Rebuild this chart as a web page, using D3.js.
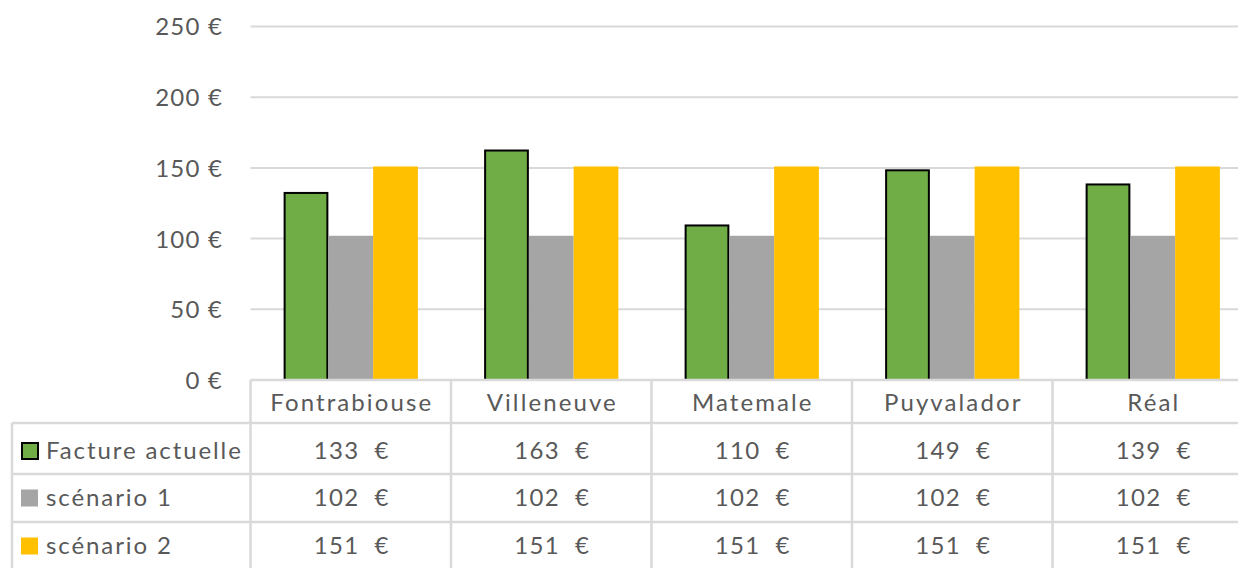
<!DOCTYPE html>
<html>
<head>
<meta charset="utf-8">
<script src="https://cdn.jsdelivr.net/npm/d3@7"></script>
<style>
  html, body { margin: 0; padding: 0; background: #fff; }
  svg text { font-family: Lato, "Noto Sans", sans-serif; fill: #595959; }
</style>
</head>
<body>
<svg id="chart" width="1238" height="568"></svg>
<script>
// Communes compared
const communes = ["Fontrabiouse", "Villeneuve", "Matemale", "Puyvalador", "Réal"];
// Annual bill per commune (€)
const factureActuelle = [133, 163, 110, 149, 139];
const scenario1 = [102, 102, 102, 102, 102];
const scenario2 = [151, 151, 151, 151, 151];
const seriesNames = ["Facture actuelle", "scénario 1", "scénario 2"];
const seriesColors = ["#70AD47", "#A5A5A5", "#FFC000"];
const yTicks = [0, 50, 100, 150, 200, 250];

const series = [factureActuelle, scenario1, scenario2];

const svg = d3.select("#chart");
const W = 1238, H = 568;

const plotLeft = 250.5, plotRight = 1253;
const tableLeft = 12;
const headerTop = 380, headerBottom = 423;
const rowBounds = [423, 474, 522, 571];
const gridColor = "#D9D9D9";

const x0 = d3.scaleBand().domain(communes).range([plotLeft, plotRight]).padding(0);
const x1 = d3.scaleBand().domain(d3.range(series.length))
  .range([0, x0.bandwidth()]).paddingInner(0).paddingOuter(0.74);
const y = d3.scaleLinear().domain([0, 250]).range([380, 26.5]);

// Horizontal gridlines
svg.append("g").selectAll("line").data(yTicks.slice(1)).join("line")
  .attr("x1", plotLeft).attr("x2", W)
  .attr("y1", d => y(d)).attr("y2", d => y(d))
  .attr("stroke", gridColor).attr("stroke-width", 2);

// Y axis labels
const yAxis = d3.axisLeft(y).tickValues(yTicks).tickSize(0).tickPadding(0)
  .tickFormat(d => d + " €");
const yg = svg.append("g").attr("transform", "translate(223,0)").call(yAxis);
yg.select(".domain").remove();
yg.selectAll("text").attr("font-size", 24).attr("font-family", "Lato, 'Noto Sans', sans-serif")
  .attr("fill", "#595959").attr("dy", "0.35em").attr("letter-spacing", 1.2);

// Bars
const groups = svg.append("g").selectAll("g").data(communes).join("g")
  .attr("transform", c => `translate(${x0(c)},0)`);
groups.selectAll("rect")
  .data((c, i) => series.map((s, k) => ({ k, v: s[i] })))
  .join("rect")
  .attr("x", d => x1(d.k) + (d.k === 0 ? 1 : 0))
  .attr("width", d => x1.bandwidth() - (d.k === 0 ? 2 : 0))
  .attr("y", d => y(d.v) + (d.k === 0 ? 1 : 0))
  .attr("height", d => y(0) - y(d.v) - (d.k === 0 ? 1 : 0))
  .attr("fill", d => seriesColors[d.k])
  .attr("stroke", d => d.k === 0 ? "#000" : "none")
  .attr("stroke-width", 2);

// Data table
const table = svg.append("g");
// horizontal rules
table.append("line").attr("x1", plotLeft).attr("x2", W)
  .attr("y1", headerTop).attr("y2", headerTop)
  .attr("stroke", gridColor).attr("stroke-width", 2.5);
rowBounds.slice(0, 3).forEach(yy => {
  table.append("line").attr("x1", tableLeft).attr("x2", W)
    .attr("y1", yy).attr("y2", yy)
    .attr("stroke", gridColor).attr("stroke-width", 2.5);
});
// vertical rules
table.append("line").attr("x1", tableLeft).attr("x2", tableLeft)
  .attr("y1", headerBottom).attr("y2", H)
  .attr("stroke", gridColor).attr("stroke-width", 2.5);
[plotLeft, ...communes.map(c => x0(c) + x0.bandwidth())].forEach(xx => {
  table.append("line").attr("x1", xx).attr("x2", xx)
    .attr("y1", headerTop).attr("y2", H)
    .attr("stroke", gridColor).attr("stroke-width", 2.5);
});

// header row: commune names
table.selectAll("text.cat").data(communes).join("text")
  .attr("class", "cat")
  .attr("x", c => x0(c) + x0.bandwidth() / 2 + 1)
  .attr("y", 403).attr("dy", "0.35em")
  .attr("text-anchor", "middle").attr("font-size", 24)
  .attr("letter-spacing", 2.1)
  .text(c => c);

// series rows
const rowCenters = [451, 498, 546];
seriesNames.forEach((name, k) => {
  const cy = rowCenters[k];
  const keySize = k === 0 ? 18 : 17;
  table.append("rect")
    .attr("x", k === 0 ? 22 : 21).attr("y", cy - keySize / 2)
    .attr("width", k === 0 ? 16 : 17).attr("height", k === 0 ? 16 : 17)
    .attr("transform", k === 0 ? "translate(0,1)" : null)
    .attr("fill", seriesColors[k])
    .attr("stroke", k === 0 ? "#000" : "none").attr("stroke-width", 2);
  table.append("text")
    .attr("x", 46).attr("y", cy).attr("dy", "0.35em")
    .attr("font-size", 24).attr("letter-spacing", 1.9).text(name);
  table.selectAll(null).data(series[k]).join("text")
    .attr("x", (v, i) => x0(communes[i]) + x0.bandwidth() / 2 + 1)
    .attr("y", cy).attr("dy", "0.35em")
    .attr("text-anchor", "middle").attr("font-size", 24)
    .attr("letter-spacing", 1.3)
    .style("white-space", "pre")
    .text(v => v + "  €");
});
</script>
</body>
</html>
